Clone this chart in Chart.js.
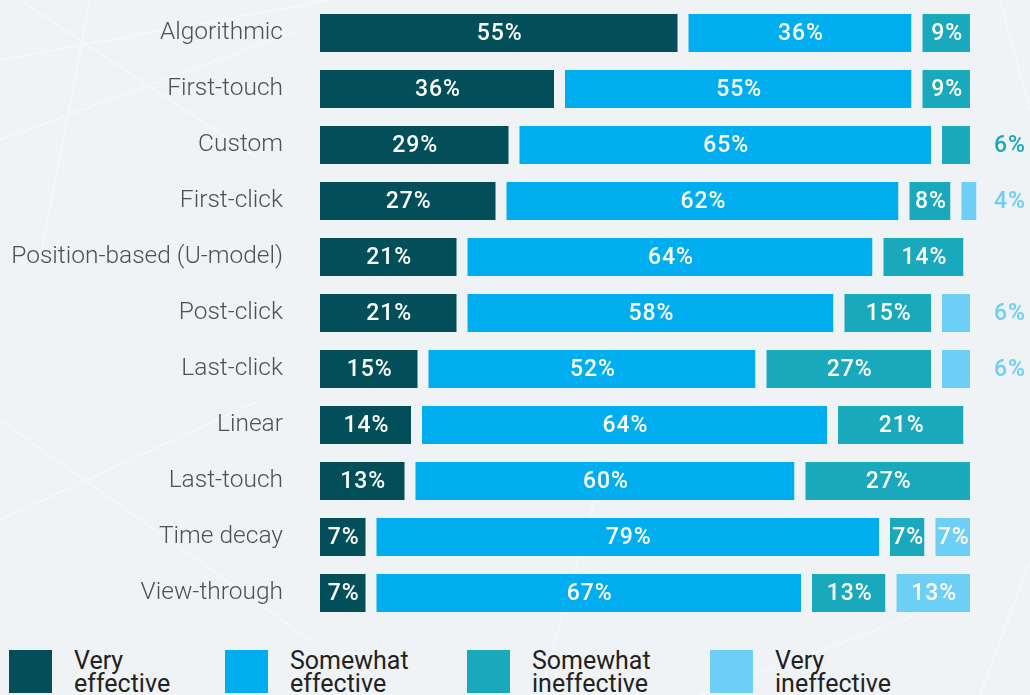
<!DOCTYPE html>
<html>
<head>
<meta charset="utf-8">
<script src="https://cdn.jsdelivr.net/npm/chart.js@4.4.1/dist/chart.umd.min.js"></script>
<style>
  html, body { margin: 0; padding: 0; width: 1030px; height: 695px; overflow: hidden; background: #eff3f6; font-family: Roboto, sans-serif; }
  #bg { position: absolute; left: 0; top: 0; }
  #wrap { position: absolute; left: 0; top: 0; width: 1030px; height: 632px; }
  .legend { position: absolute; top: 650px; left: 0; width: 1030px; }
  .item { position: absolute; top: 0; display: flex; }
  .swatch { width: 43px; height: 43px; }
  .label { margin-left: 22px; margin-top: -1px; font-size: 25px; line-height: 23px; color: #222222; font-weight: 400; }
</style>
</head>
<body>
<svg id="bg" width="1030" height="695" stroke="#ffffff" stroke-width="1.2" opacity="0.5">
  <line x1="0" y1="60" x2="330" y2="0" />
  <line x1="20" y1="0" x2="260" y2="160" />
  <line x1="0" y1="140" x2="300" y2="30" />
  <line x1="90" y1="0" x2="40" y2="260" />
  <line x1="0" y1="420" x2="310" y2="640" />
  <line x1="0" y1="520" x2="260" y2="400" />
  <line x1="540" y1="695" x2="600" y2="480" />
  <line x1="980" y1="695" x2="1030" y2="560" />
  <line x1="1000" y1="0" x2="1030" y2="110" />
  <line x1="700" y1="695" x2="930" y2="610" />
</svg>
<div id="wrap"><canvas id="chart" width="1030" height="632"></canvas></div>
<div class="legend" id="legend"></div>
<script>
// attribution models and survey shares (%)
const categories = [
  "Algorithmic", "First-touch", "Custom", "First-click", "Position-based (U-model)",
  "Post-click", "Last-click", "Linear", "Last-touch", "Time decay", "View-through"
];
const veryEffective       = [55, 36, 29, 27, 21, 21, 15, 14, 13, 7, 7];
const somewhatEffective   = [36, 55, 65, 62, 64, 58, 52, 64, 60, 79, 67];
const somewhatIneffective = [9, 9, 6, 8, 14, 15, 27, 21, 27, 7, 13];
const veryIneffective     = [0, 0, 0, 4, 0, 6, 6, 0, 0, 7, 13];

const seriesNames = [["Very", "effective"], ["Somewhat", "effective"], ["Somewhat", "ineffective"], ["Very", "ineffective"]];
const seriesColors = ["#024f59", "#00aeef", "#1aa9bc", "#6dcff6"];
const seriesData = [veryEffective, somewhatEffective, somewhatIneffective, veryIneffective];

const GAP = 11;

const datasets = seriesData.map((d, i) => ({
  label: seriesNames[i].join(" "),
  data: d,
  backgroundColor: seriesColors[i],
  borderColor: "rgba(0,0,0,0)",
  borderSkipped: false,
  borderWidth: { top: 0, right: 0, bottom: 0, left: i === 0 ? 0 : GAP },
  clip: false
}));

// value labels: inside the segment, or to the right of the chart for small ones
const valueLabels = {
  id: "valueLabels",
  afterDatasetsDraw(chart) {
    const ctx = chart.ctx;
    ctx.save();
    ctx.font = "500 23px Roboto";
    ctx.textBaseline = "middle";
    ctx.textAlign = "center";
    ctx.letterSpacing = "1px";
    chart.data.datasets.forEach((ds, i) => {
      const meta = chart.getDatasetMeta(i);
      meta.data.forEach((bar, j) => {
        const v = ds.data[j];
        if (!v) return;
        const p = bar.getProps(["x", "y", "base"], true);
        const left = p.base + (i === 0 ? 0 : GAP);
        if (v >= 7) {
          ctx.fillStyle = "#ffffff";
          ctx.fillText(v + "%", (left + p.x) / 2 + 1, p.y + 1);
        } else {
          ctx.fillStyle = ds.backgroundColor;
          ctx.fillText(v + "%", chart.chartArea.right + 40, p.y + 1);
        }
      });
    });
    ctx.restore();
  }
};

new Chart(document.getElementById("chart"), {
  type: "bar",
  data: { labels: categories, datasets: datasets },
  options: {
    responsive: false,
    animation: false,
    indexAxis: "y",
    layout: { padding: { top: 5, bottom: 11, right: 60, left: 0 } },
    datasets: { bar: { categoryPercentage: 1, barPercentage: 0.68 } },
    plugins: { legend: { display: false }, tooltip: { enabled: false } },
    scales: {
      x: { stacked: true, min: 0, max: 100, display: false },
      y: {
        stacked: true,
        grid: { display: false, drawTicks: false },
        border: { display: false },
        afterFit(scale) {
          scale.width = 320;
          scale.paddingTop = 0;
          scale.paddingBottom = 0;
        },
        ticks: { color: "#505050", padding: 37, font: { family: "Roboto", size: 24.5, weight: 300 } }
      }
    }
  },
  plugins: [valueLabels]
});

// legend below the chart
const legendX = [9, 225, 467, 710];
const legend = document.getElementById("legend");
seriesNames.forEach((name, i) => {
  const item = document.createElement("div");
  item.className = "item";
  item.style.left = legendX[i] + "px";
  item.innerHTML = '<div class="swatch" style="background:' + seriesColors[i] + '"></div>' +
    '<div class="label">' + name.join("<br>") + "</div>";
  legend.appendChild(item);
});
</script>
</body>
</html>
